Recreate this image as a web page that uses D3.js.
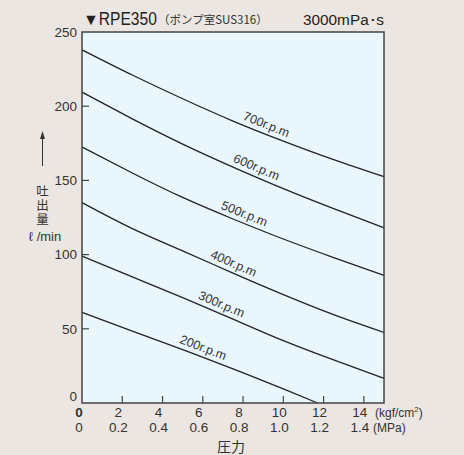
<!DOCTYPE html>
<html><head><meta charset="utf-8">
<script src="https://cdn.jsdelivr.net/npm/d3@7"></script>
<style>
body{margin:0;background:#ebe6e1;}
svg{display:block;font-family:"Liberation Sans",Arial,sans-serif;}
</style></head><body>
<svg id="c" width="464" height="455"></svg>
<script>
// ---- data ----
const pressures = [0, 2.5, 5, 7.5, 10, 12.5, 15];          // kgf/cm2
const flow700 = [238, 221, 205, 190, 176.5, 164, 152.5];
const flow600 = [209.5, 191.5, 174.5, 159, 144.5, 131, 118];
const flow500 = [172.5, 155, 138.5, 124, 110.5, 98, 86];
const flow400 = [135, 117.5, 102.5, 87.5, 73, 59.5, 47.5];
const flow300 = [99, 85, 71, 56.5, 42, 29, 16.6];
const pressures200 = [0, 2.5, 5, 7.5, 10, 11.7];
const flow200 = [61, 48.5, 36, 23, 9.5, 0];
const speedLabels = ["700r.p.m", "600r.p.m", "500r.p.m", "400r.p.m", "300r.p.m", "200r.p.m"];
const labelPressure = [8.99, 8.49, 7.9, 7.35, 6.75, 5.86];
const yTicks = [0, 50, 100, 150, 200, 250];
const xTicksKgf = [0, 2, 4, 6, 8, 10, 12, 14];
const xTicksMPa = ["0", "0.2", "0.4", "0.6", "0.8", "1.0", "1.2", "1.4"];

const series = [
  {p: pressures, q: flow700},
  {p: pressures, q: flow600},
  {p: pressures, q: flow500},
  {p: pressures, q: flow400},
  {p: pressures, q: flow300},
  {p: pressures200, q: flow200}
];

// ---- layout ----
const L = 82, R = 384, T = 32, B = 403;
const svg = d3.select("#c");
const x = d3.scaleLinear().domain([0, 15]).range([L, R]);
const y = d3.scaleLinear().domain([0, 250]).range([B, T]);
const txt = "#333";

svg.append("rect").attr("x", L).attr("y", T).attr("width", R - L).attr("height", B - T)
  .attr("fill", "#e9f6fc");

// curves
const line = d3.line().x(d => x(d[0])).y(d => y(d[1])).curve(d3.curveNatural);
const g = svg.append("g");
series.forEach((s, i) => {
  const pts = s.p.map((p, j) => [p, s.q[j]]);
  g.append("path").attr("d", line(pts)).attr("fill", "none")
    .attr("stroke", "#222").attr("stroke-width", 1.3);
  // label
  const f = d3.scaleLinear().domain(s.p).range(s.q);
  const lp = labelPressure[i];
  const px = x(lp), py = y(f(lp));
  const x1 = x(lp - 0.6), y1 = y(f(lp - 0.6)), x2 = x(lp + 0.6), y2 = y(f(lp + 0.6));
  const ang = Math.atan2(y2 - y1, x2 - x1) * 180 / Math.PI;
  g.append("text").attr("transform", `translate(${px},${py}) rotate(${ang})`)
    .attr("dy", -5).attr("text-anchor", "middle").attr("font-size", 12.5)
    .attr("fill", txt).text(speedLabels[i]);
});

// ticks (inside)
svg.append("g").selectAll("line").data(yTicks.slice(1, -1)).join("line")
  .attr("x1", L).attr("x2", L + 7).attr("y1", d => y(d)).attr("y2", d => y(d))
  .attr("stroke", "#444").attr("stroke-width", 1.2);
svg.append("g").selectAll("line").data(xTicksKgf.slice(1)).join("line")
  .attr("x1", d => x(d)).attr("x2", d => x(d)).attr("y1", B).attr("y2", B - 7)
  .attr("stroke", "#444").attr("stroke-width", 1.2);

// frame
svg.append("rect").attr("x", L).attr("y", T).attr("width", R - L).attr("height", B - T)
  .attr("fill", "none").attr("stroke", "#444").attr("stroke-width", 1.5);

// y tick labels
svg.append("g").selectAll("text").data(yTicks).join("text")
  .attr("x", L - 5).attr("y", d => d === 0 ? y(d) - 7 : y(d))
  .attr("dy", "0.35em").attr("text-anchor", "end").attr("font-size", 13.5)
  .attr("fill", txt).text(d => d);

// x tick labels
svg.append("g").selectAll("text").data(xTicksKgf).join("text")
  .attr("x", d => x(d) - (d === 0 ? 3 : 4)).attr("y", 417).attr("text-anchor", "middle")
  .attr("font-size", 13.5).attr("font-weight", d => d === 0 ? "bold" : "normal")
  .attr("fill", txt).text(d => d);
svg.append("g").selectAll("text").data(xTicksMPa).join("text")
  .attr("x", (d, i) => x(xTicksKgf[i]) - (i === 0 ? 3 : 4)).attr("y", 432).attr("text-anchor", "middle")
  .attr("font-size", 13.5).attr("fill", txt).text(d => d);
const u1 = svg.append("text").attr("x", 375).attr("y", 417).attr("font-size", 12).attr("fill", txt);
u1.append("tspan").text("(kgf/cm");
u1.append("tspan").attr("font-size", 8).attr("dy", -5).text("2");
u1.append("tspan").attr("dy", 5).text(")");
svg.append("text").attr("x", 373).attr("y", 432).attr("font-size", 12).attr("fill", txt).text("(MPa)");

svg.append("text").attr("x", 231).attr("y", 452).attr("text-anchor", "middle")
  .attr("font-size", 14).attr("font-family", "Noto Sans CJK JP").attr("fill", txt).text("圧力");

// y axis title
svg.append("line").attr("x1", 42.5).attr("x2", 42.5).attr("y1", 166).attr("y2", 137)
  .attr("stroke", "#333").attr("stroke-width", 1);
svg.append("path").attr("d", "M42.5,131 L40,139 L45,139 Z").attr("fill", "#333");
svg.append("text").attr("x", 42.5).attr("y", 185)
  .attr("font-size", 12.5).attr("font-family", "Noto Sans CJK JP").attr("fill", txt)
  .style("writing-mode", "vertical-rl").style("letter-spacing", "1.5px").text("吐出量");
svg.append("text").attr("x", 45).attr("y", 241).attr("text-anchor", "middle")
  .attr("font-size", 13).attr("fill", txt).text("ℓ /min");

// title
const t = svg.append("text").attr("x", 83).attr("y", 25).attr("fill", "#222");
t.append("tspan").attr("font-size", 16).text("▼");
t.append("tspan").attr("font-size", 18).attr("textLength", 58).attr("lengthAdjust", "spacingAndGlyphs").text("RPE350");
svg.append("text").attr("x", 158).attr("y", 24).attr("font-size", 11.5).attr("fill", txt)
  .attr("font-family", "Noto Sans CJK JP").text("（ポンプ室SUS316）");
svg.append("text").attr("x", 303).attr("y", 25).attr("font-size", 14).attr("fill", "#222")
  .attr("textLength", 81).attr("lengthAdjust", "spacingAndGlyphs").text("3000mPa･s");
</script>
</body></html>
